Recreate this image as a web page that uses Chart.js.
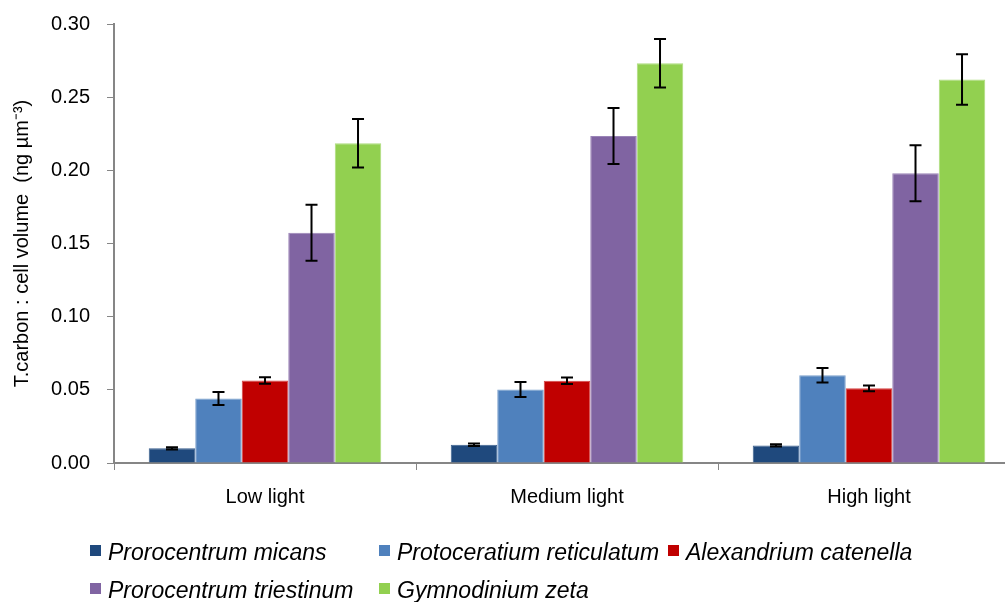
<!DOCTYPE html>
<html>
<head>
<meta charset="utf-8">
<script src="https://cdn.jsdelivr.net/npm/chart.js@4/dist/chart.umd.min.js"></script>
<style>
    html, body { margin: 0; padding: 0; background: #fff; }
    #wrap { position: relative; width: 1005px; height: 602px; overflow: hidden; }
    #myChart { position: absolute; left: 0; top: 0; }
    #legend {
        position: absolute; left: 90px; top: 533px;
        display: grid; grid-template-columns: 289px 289px 289px;
        font-family: "Liberation Sans", Arial, sans-serif; font-style: italic;
        font-size: 23px; color: #000;
    }
    .item { height: 38px; line-height: 38px; white-space: nowrap; display: flex; align-items: center; }
    .box { width: 11px; height: 11px; margin-right: 7px; margin-top: -4px; flex: none; }
</style>
</head>
<body>
<div id="wrap">
    <canvas id="myChart" width="1022" height="602"></canvas>
    <div id="legend"></div>
</div>
<script>
const categories = ['Low light', 'Medium light', 'High light'];

const seriesNames = ['Prorocentrum micans', 'Protoceratium reticulatum', 'Alexandrium catenella',
    'Prorocentrum triestinum', 'Gymnodinium zeta'];

const micans = [0.0100, 0.0125, 0.0120];
const reticulatum = [0.0441, 0.0502, 0.0600];
const catenella = [0.0564, 0.0562, 0.0510];
const triestinum = [0.1573, 0.2235, 0.1980];
const zeta = [0.2185, 0.2732, 0.2621];

const micansErr = [0.0008, 0.0008, 0.0008];
const reticulatumErr = [0.0044, 0.0051, 0.0050];
const catenellaErr = [0.0022, 0.0022, 0.0020];
const triestinumErr = [0.0191, 0.0191, 0.0191];
const zetaErr = [0.0166, 0.0166, 0.0173];

const yTicks = [0, 0.05, 0.10, 0.15, 0.20, 0.25, 0.30];

const colors = ['#1F497D', '#4F81BD', '#C00000', '#8064A2', '#92D050'];
const borders = ['#3A5F8E', '#7A9FCC', '#D64545', '#9A84B7', '#ADDC7C'];

const values = [micans, reticulatum, catenella, triestinum, zeta];
const errors = [micansErr, reticulatumErr, catenellaErr, triestinumErr, zetaErr];

const axisColor = '#868686';
const font = { family: '"Liberation Sans", Arial, sans-serif', size: 20 };

// error bars drawn with the scales
const errorBars = {
    id: 'errorBars',
    afterDatasetsDraw(chart) {
        const ctx = chart.ctx;
        const y = chart.scales.y;
        ctx.save();
        ctx.strokeStyle = '#000';
        ctx.lineWidth = 2;
        chart.data.datasets.forEach(function(ds, i) {
            const meta = chart.getDatasetMeta(i);
            meta.data.forEach(function(bar, j) {
                const v = ds.data[j], e = ds.errors[j];
                const top = y.getPixelForValue(v + e);
                const bot = y.getPixelForValue(v - e);
                const cap = 6;
                ctx.beginPath();
                ctx.moveTo(bar.x, top);
                ctx.lineTo(bar.x, bot);
                ctx.moveTo(bar.x - cap, top);
                ctx.lineTo(bar.x + cap, top);
                ctx.moveTo(bar.x - cap, bot);
                ctx.lineTo(bar.x + cap, bot);
                ctx.stroke();
            });
        });
        ctx.restore();
    }
};

const myChart = new Chart(document.getElementById('myChart'), {
    type: 'bar',
    data: {
        labels: categories,
        datasets: seriesNames.map(function(name, i) {
            return {
                label: name,
                data: values[i],
                errors: errors[i],
                backgroundColor: colors[i],
                borderColor: borders[i],
                borderWidth: 1,
                categoryPercentage: 0.77,
                barPercentage: 1.0
            };
        })
    },
    options: {
        responsive: false,
        animation: false,
        layout: { padding: { top: 24, right: 2, bottom: 84, left: 0 } },
        plugins: {
            legend: { display: false },
            tooltip: { enabled: false }
        },
        scales: {
            x: {
                afterFit: function(s) { s.height = 55; },
                grid: { display: true, drawOnChartArea: false, offset: true, color: axisColor, tickLength: 7 },
                border: { display: true, color: axisColor, width: 2 },
                ticks: { color: '#000', font: font, padding: 15 }
            },
            y: {
                min: 0,
                max: 0.30,
                afterFit: function(s) { s.width = 114; s.paddingTop = 0; },
                afterBuildTicks: function(s) { s.ticks = yTicks.map(v => ({ value: v })); },
                grid: { display: true, drawOnChartArea: false, color: axisColor, tickLength: 7 },
                border: { display: true, color: axisColor, width: 2 },
                ticks: {
                    color: '#000', font: { family: font.family, size: 20, lineHeight: 0.6 }, padding: 17,
                    callback: function(v) { return v.toFixed(2); }
                },
                title: {
                    display: true,
                    text: 'T.carbon : cell volume  (ng µm⁻³)',
                    color: '#000',
                    font: { family: font.family, size: 20 },
                    padding: { top: 10, bottom: 0 }
                }
            }
        }
    },
    plugins: [errorBars]
});

// legend in two rows like the original
const legend = document.getElementById('legend');
seriesNames.forEach(function(name, i) {
    const item = document.createElement('div');
    item.className = 'item';
    const box = document.createElement('span');
    box.className = 'box';
    box.style.background = colors[i];
    item.appendChild(box);
    item.appendChild(document.createTextNode(name));
    legend.appendChild(item);
});
</script>
</body>
</html>
